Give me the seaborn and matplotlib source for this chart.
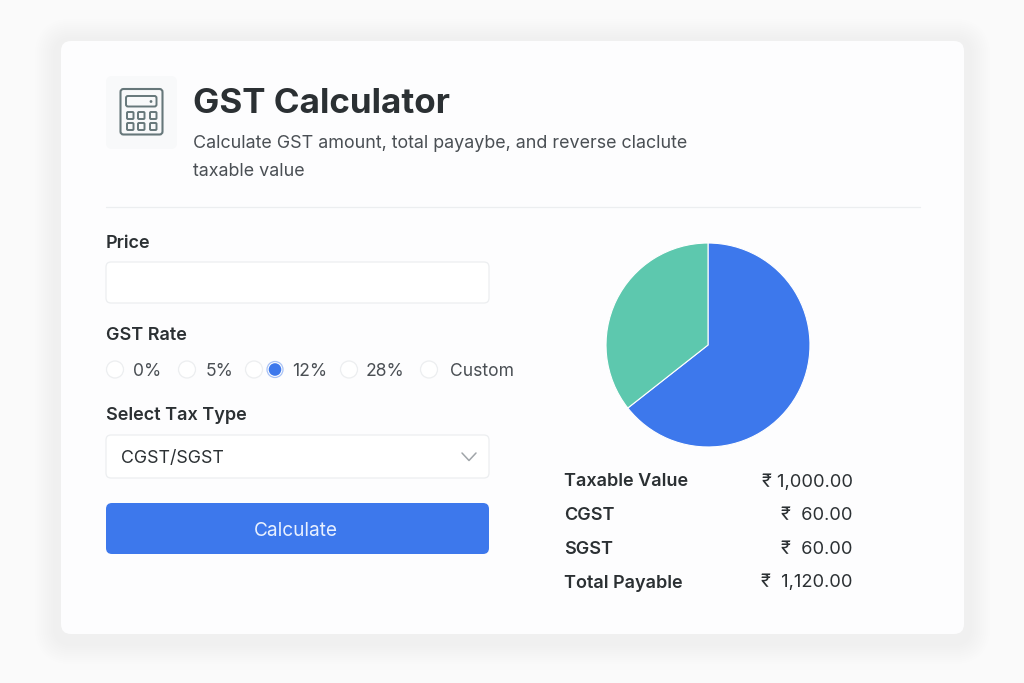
import matplotlib
matplotlib.use('Agg')
import matplotlib.pyplot as plt
from matplotlib.patches import FancyBboxPatch, Circle
import seaborn as sns

# Chart data
slice_names = ['Taxable Value', 'Tax']
slice_values = [64.4, 35.6]
slice_colors = ['#3d78ec', '#5dc8ae']

rate_labels = ['0%', '5%', '12%', '28%', 'Custom']
summary_labels = ['Taxable Value', 'CGST', 'SGST', 'Total Payable']
summary_amounts = ['₹ 1,000.00', '₹  60.00', '₹  60.00', '₹  1,120.00']

FONT = ['Inter', 'DejaVu Sans']
DARK = '#2b3033'
MID = '#4a4f54'
LINE = '#eceef0'

sns.set_theme(style='white')
plt.rcParams['font.family'] = FONT


def box(ax, x0, y0, x1, y1, r, **kw):
    p = FancyBboxPatch((x0 + r, y0 + r), x1 - x0 - 2 * r, y1 - y0 - 2 * r,
                       boxstyle=f'round,pad={r},rounding_size={r}', **kw)
    ax.add_patch(p)
    return p


fig = plt.figure(figsize=(10.24, 6.83), dpi=100, facecolor='#fafafa')
ax = fig.add_axes([0, 0, 1, 1])
ax.set_xlim(0, 1024)
ax.set_ylim(683, 0)
ax.axis('off')

# Card with soft shadow
for grow in range(26, 0, -2):
    box(ax, 61 - grow, 41 - grow + 4, 964 + grow, 634 + grow + 4, 12 + grow,
        fc='#f0f0f0', ec='none', alpha=0.025)
box(ax, 61, 41, 964, 634, 10, fc='#fdfdfe', ec='none')

# Header icon
box(ax, 106, 76, 177, 149, 6, fc='#f8f9fa', ec='none')
ICON = '#66777a'
box(ax, 120.5, 89, 162.5, 134.5, 3, fc='none', ec=ICON, lw=1.5)
box(ax, 126, 96, 156.5, 106.5, 2, fc='none', ec=ICON, lw=1.4)
ax.add_patch(Circle((151, 101.5), 1.4, fc=ICON, ec='none'))
for yy in (112, 123):
    for xx in (127, 138, 150):
        box(ax, xx, yy, xx + 6.5, yy + 7, 1, fc='none', ec=ICON, lw=1.4)

ax.text(193, 104, 'GST Calculator', fontsize=25.2, fontweight='bold', color=DARK, va='center')
ax.text(193, 144, 'Calculate GST amount, total payaybe, and reverse claclute',
        fontsize=12.9, color=MID, va='center')
ax.text(193, 172, 'taxable value', fontsize=12.9, color=MID, va='center')
ax.plot([106, 920], [206.5, 206.5], color=LINE, lw=0.9)

# Form
ax.text(106, 243, 'Price', fontsize=13, fontweight='semibold', color=DARK, va='center')
box(ax, 106, 262, 489, 303, 5, fc='#ffffff', ec=LINE, lw=0.9)

ax.text(106, 335, 'GST Rate', fontsize=13, fontweight='semibold', color=DARK, va='center')
radio_x = [115, 187, 254, 349, 429]
label_x = [133, 206, 292, 366, 450]
for x, lx, lab in zip(radio_x, label_x, rate_labels):
    ax.add_patch(Circle((x, 369.5), 8.5, fc='#ffffff', ec=LINE, lw=0.9))
    ax.text(lx, 371, lab, fontsize=12.6, color=MID, va='center')
ax.add_patch(Circle((275, 369.5), 8, fc='#ffffff', ec='#a9c2f5', lw=0.9))
ax.add_patch(Circle((275, 369.5), 6.3, fc='#3d78ec', ec='none'))

ax.text(106, 416, 'Select Tax Type', fontsize=13, fontweight='semibold', color=DARK, va='center')
box(ax, 106, 435, 489, 478, 5, fc='#ffffff', ec=LINE, lw=0.9)
ax.text(121, 458.5, 'CGST/SGST', fontsize=12.8, color=DARK, va='center')
ax.plot([462, 469, 476], [453, 460.5, 453], color='#a0a5a9', lw=1.1)

box(ax, 106, 503, 489, 554, 6, fc='#3d78ec', ec='none')
ax.text(296, 530.5, 'Calculate', fontsize=13.7, color='#e8f0ff', ha='center', va='center')

# Summary rows
for y, lab, amt in zip([482, 516, 549, 583], summary_labels, summary_amounts):
    ax.text(564, y, lab, fontsize=13, fontweight='semibold', color=DARK, va='center')
    ax.text(852.5, y, amt, fontsize=13.2, color=DARK, ha='right', va='center')

# Pie
pie_ax = fig.add_axes([(708 - 103) / 1024, 1 - (345 + 103) / 683, 206 / 1024, 206 / 683])
pie_ax.pie(slice_values, colors=slice_colors, startangle=90, counterclock=False,
           radius=1, wedgeprops={'edgecolor': '#ffffff', 'linewidth': 0.8})
pie_ax.set_xlim(-1.01, 1.01)
pie_ax.set_ylim(-1.01, 1.01)

fig.savefig('out.png', dpi=100, facecolor=fig.get_facecolor())
